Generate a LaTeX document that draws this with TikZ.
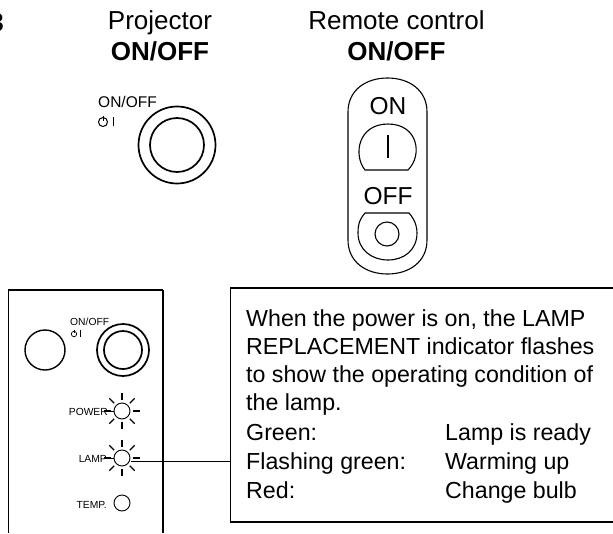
\documentclass[tikz,border=0pt]{standalone}
\usepackage{fontspec}
\setmainfont{Liberation Sans}
\tikzset{
  x=1pt,y=-1pt,
  ink/.style={draw=black,line width=1.1pt},
  thick ink/.style={draw=black,line width=1.7pt},
  big/.style={inner sep=0pt,font=\fontsize{26}{26}\selectfont,anchor=base},
  bigb/.style={inner sep=0pt,font=\fontsize{26}{26}\selectfont\bfseries,anchor=base},
  mid/.style={inner sep=0pt,font=\fontsize{24.5}{24.5}\selectfont,anchor=base},
  lab/.style={inner sep=0pt,font=\fontsize{23.2}{23.2}\selectfont,anchor=base west},
  tiny/.style={inner sep=0pt,font=\fontsize{15.5}{15.5}\selectfont,anchor=base west},
  micro/.style={inner sep=0pt,font=\fontsize{10.3}{10.3}\selectfont,anchor=base west},
  ray/.style={draw=black,line width=1.2pt},
  panelline/.style={draw=black,line width=1.2pt},
}
\newcommand{\raysat}[2]{%
  \foreach \a in {0,45,...,315} {
    \draw[ray] ({#1+11*cos(\a)},{#2+11*sin(\a)}) -- ({#1+18*cos(\a)},{#2+18*sin(\a)});
  }}
\begin{document}
\begin{tikzpicture}
\useasboundingbox (0,0) rectangle (613,533);
\fill[white] (0,0) rectangle (613,533);
% stray clipped numeral
\begin{scope}
\clip (0,0) rectangle (613,533);
\node[inner sep=0pt,font=\fontsize{26}{26}\selectfont\bfseries,anchor=base east] (num) at (4,31) {3};
\end{scope}
% headings
\node[big] (h1) at (160,29) {Projector};
\node[bigb] (h2) at (160,60) {ON/OFF};
\node[big] (h3) at (396.5,29) {Remote control};
\node[bigb] (h4) at (396.5,60) {ON/OFF};
% projector button
\node[tiny] (t1) at (98,107) {ON/OFF};
\draw[line width=1pt] (103,122) circle (4.5);
\draw[line width=1pt] (103,115.5) -- (103,121);
\draw[line width=1pt] (113,117) -- (113,126);
\draw[thick ink] (177,145) circle (38.5);
\draw[thick ink] (177,145) circle (27);
% remote
\draw[ink] (348,112) .. controls (348,90) and (366,78) .. (387.5,78) .. controls (409,78) and (427,90) .. (427,112) -- (427,240) .. controls (427,262) and (409,274) .. (387.5,274) .. controls (366,274) and (348,262) .. (348,240) -- cycle;
\node[mid] (on) at (388,114) {ON};
\draw[ink] (365,170) .. controls (353,155) and (358,124) .. (388,124) .. controls (418,124) and (423,155) .. (408,170) -- cycle;
\draw[ink] (388,135) -- (388,158);
\node[mid] (off) at (388,204) {OFF};
\draw[ink] (365,213) -- (409,213) .. controls (416,221) and (417,228) .. (417,233) .. controls (417,250) and (404,260) .. (388,260) .. controls (372,260) and (358,250) .. (358,233) .. controls (358,228) and (358,221) .. (365,213) -- cycle;
\draw[ink] (387,234) circle (12);
% panel
\draw[panelline,line width=1.7pt] (8.5,533) -- (8.5,290) -- (163,290);
\draw[panelline] (163,290) -- (163,533);
\draw[thick ink,line width=1.4pt] (45,350) circle (20);
\draw[thick ink] (123,350) circle (26);
\draw[thick ink] (123,350) circle (19);
\node[micro] (t3) at (70,325) {ON/OFF};
\draw[line width=0.7pt] (74,334) circle (2.7);
\draw[line width=0.7pt] (74,329.5) -- (74,333);
\draw[line width=0.7pt] (80,330) -- (80,336.5);
\node[micro,anchor=base east] (pw) at (108,415) {POWER};
\node[micro,anchor=base east] (lp) at (107,462) {LAMP};
\node[micro,anchor=base east] (tp) at (107,508) {TEMP.};
\draw[line width=0.9pt] (122,411) circle (8);
\raysat{122}{411}
\draw[line width=0.9pt] (108,411) -- (114,411);
\draw[line width=0.9pt] (122,458) circle (8);
\raysat{122}{458}
\draw[line width=0.9pt] (107,458) -- (114,458);
\draw[line width=0.9pt] (122,503) circle (8);
% callout
\draw[thick ink,line width=1.4pt] (230.5,288) rectangle (640,522);
\node[lab] at (246,326) {When the power is on, the LAMP};
\node[lab] at (246,354) {REPLACEMENT indicator flashes};
\node[lab] at (246,382) {to show the operating condition of};
\node[lab] at (246,410) {the lamp.};
\node[lab] at (246,440) {Green:};
\node[lab] at (246,469) {Flashing green:};
\node[lab] at (246,498) {Red:};
\node[lab] at (445,440) {Lamp is ready};
\node[lab] at (445,469) {Warming up};
\node[lab] at (445,498) {Change bulb};
\coordinate (lampc) at (131,461);
\coordinate (boxl) at (230,461);
\draw[line width=1pt] (lampc) -- (boxl);
\end{tikzpicture}
\end{document}
